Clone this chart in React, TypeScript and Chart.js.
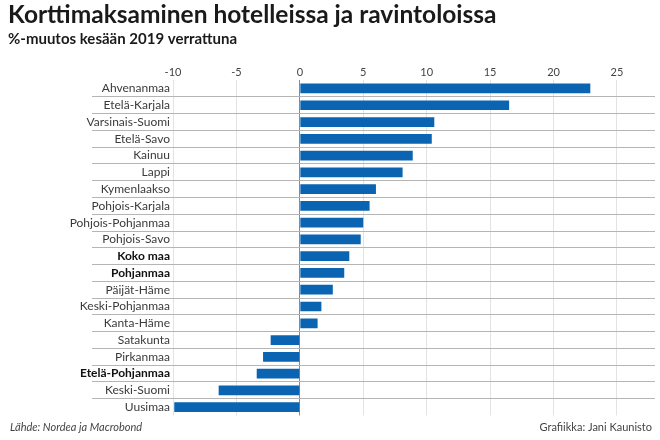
import React, { useEffect, useRef } from "react";
import { Chart, registerables } from "chart.js";

Chart.register(...registerables);

const regions = [
  "Ahvenanmaa",
  "Etelä-Karjala",
  "Varsinais-Suomi",
  "Etelä-Savo",
  "Kainuu",
  "Lappi",
  "Kymenlaakso",
  "Pohjois-Karjala",
  "Pohjois-Pohjanmaa",
  "Pohjois-Savo",
  "Koko maa",
  "Pohjanmaa",
  "Päijät-Häme",
  "Keski-Pohjanmaa",
  "Kanta-Häme",
  "Satakunta",
  "Pirkanmaa",
  "Etelä-Pohjanmaa",
  "Keski-Suomi",
  "Uusimaa",
];

const changes = [
  22.9, 16.5, 10.6, 10.4, 8.9, 8.1, 6.0, 5.5, 5.0, 4.8,
  3.9, 3.5, 2.6, 1.7, 1.4, -2.3, -2.9, -3.4, -6.4, -9.9,
];

const boldRegions = ["Koko maa", "Pohjanmaa", "Etelä-Pohjanmaa"];

const xMin = -10;
const xMax = 28;
const xStep = 5;

const titleText = "Korttimaksaminen hotelleissa ja ravintoloissa";
const subtitleText = "%-muutos kesään 2019 verrattuna";
const sourceText = "Lähde: Nordea ja Macrobond";
const creditText = "Grafiikka: Jani Kaunisto";

const FONT = "Lato, 'Open Sans', sans-serif";

const footerPlugin = {
  id: "footerNotes",
  afterDraw(chart: any) {
    const { ctx, width, height } = chart;
    ctx.save();
    ctx.textBaseline = "middle";
    ctx.fillStyle = "#444";
    ctx.font = `italic 11px ${FONT}`;
    ctx.textAlign = "left";
    ctx.fillText(sourceText, 10, height - 13);
    ctx.font = `11px ${FONT}`;
    ctx.textAlign = "right";
    ctx.fillText(creditText, width - 8, height - 13);
    ctx.restore();
  },
};

export default function App() {
  const canvasRef = useRef<HTMLCanvasElement | null>(null);

  useEffect(() => {
    if (!canvasRef.current) return;
    Chart.defaults.font.family = FONT;
    const chart = new Chart(canvasRef.current, {
      type: "bar",
      data: {
        labels: regions,
        datasets: [
          {
            data: changes,
            backgroundColor: "#0a64b2",
            borderWidth: 0,
            barPercentage: 0.58,
            categoryPercentage: 1,
          },
        ],
      },
      plugins: [footerPlugin],
      options: {
        indexAxis: "y",
        animation: false,
        responsive: true,
        maintainAspectRatio: false,
        layout: { padding: { left: 8, right: 5, top: 0, bottom: 24.5 } },
        plugins: {
          legend: { display: false },
          tooltip: { enabled: false },
          title: {
            display: true,
            text: titleText,
            align: "start",
            color: "#1a1a1a",
            font: { family: FONT, size: 24.5, weight: "bold" },
            padding: { top: 0.3, bottom: 0 },
          },
          subtitle: {
            display: true,
            text: subtitleText,
            align: "start",
            color: "#1a1a1a",
            font: { family: FONT, size: 15, weight: "bold" },
            padding: { top: 0, bottom: 17.2 },
          },
        },
        scales: {
          x: {
            type: "linear",
            position: "top",
            min: xMin,
            max: xMax,
            grid: {
              color: (ctx: any) =>
                ctx.tick && ctx.tick.value === 0 ? "#8a8a8a" : "#e3e3e3",
              drawTicks: false,
            },
            border: { display: false },
            ticks: {
              stepSize: xStep,
              includeBounds: false,
              padding: 1,
              color: "#444",
              font: { family: FONT, size: 11 },
            },
          },
          y: {
            type: "category",
            grid: {
              offset: true,
              tickLength: 81,
              color: (ctx: any) =>
                ctx.type === "tick" && ctx.index > 0 ? "#b5b5b5" : "rgba(0,0,0,0)",
            },
            border: { display: false },
            ticks: {
              autoSkip: false,
              padding: -78,
              color: (ctx: any) =>
                boldRegions.includes(regions[ctx.index]) ? "#111" : "#3a3a3a",
              font: (ctx: any) => ({
                family: FONT,
                size: 12,
                weight: boldRegions.includes(regions[ctx.index]) ? "bold" : "normal",
              }),
            },
            afterFit: (scale: any) => {
              scale.width = 165;
            },
          },
        },
      },
    });
    return () => chart.destroy();
  }, []);

  return (
    <div style={{ position: "fixed", left: 0, top: 0, width: 660, height: 440, background: "#fff" }}>
      <canvas ref={canvasRef} />
    </div>
  );
}
